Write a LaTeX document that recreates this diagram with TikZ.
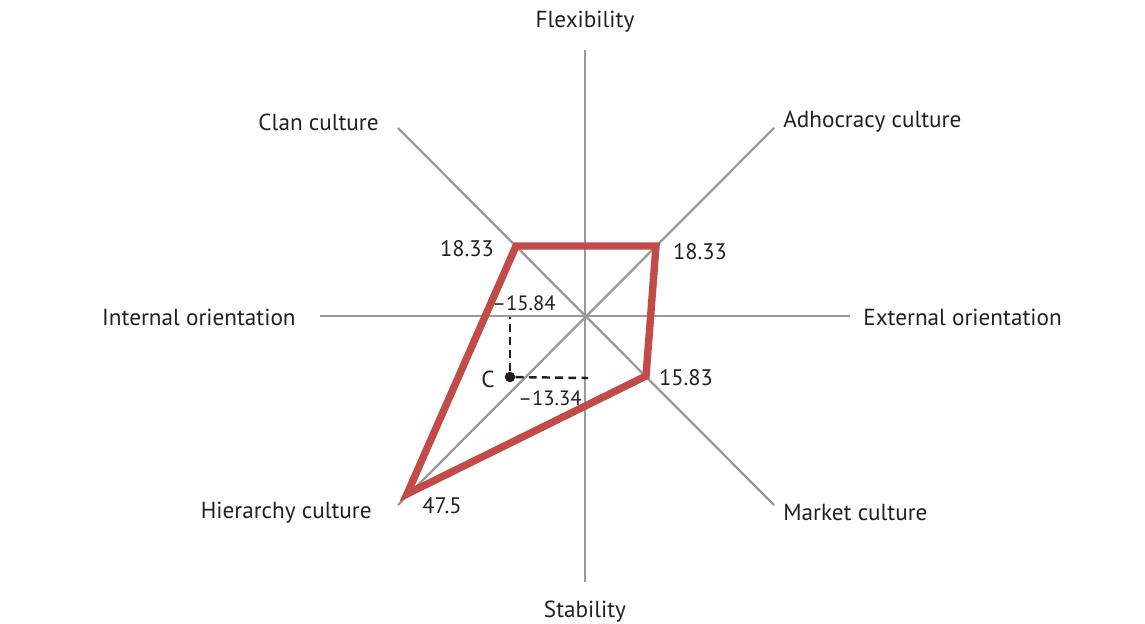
\documentclass[tikz,border=0pt]{standalone}
\usepackage{fontspec}
\setmainfont{PT Sans}
\definecolor{cultred}{RGB}{192,75,72}
\definecolor{axisgray}{RGB}{153,153,153}
\definecolor{txt}{RGB}{35,31,32}

\begin{document}
\begin{tikzpicture}[x=0.02cm,y=-0.02cm,
  axis/.style = {draw=axisgray,line width=1.3pt},
  profile/.style = {draw=cultred,line width=4.2pt,line join=miter},
  guide/.style = {draw=txt,line width=1.4pt,dash pattern=on 4.5pt off 3pt},
  lbl/.style = {text=txt,font=\fontsize{13.2}{15}\selectfont,inner sep=0pt},
  val/.style = {text=txt,font=\fontsize{12.8}{15}\selectfont,inner sep=0pt},
  small/.style = {text=txt,font=\fontsize{11.8}{14}\selectfont,inner sep=0pt}]

\useasboundingbox (0,0) rectangle (1145,623);

% axes
\coordinate (o) at (585,316);
\coordinate (n) at (585,50);
\coordinate (s) at (585,582);
\coordinate (w) at (320,316);
\coordinate (e) at (850,316);
\coordinate (nw) at (398,128);
\coordinate (ne) at (774,128);
\coordinate (sw) at (398,505);
\coordinate (se) at (774,505);

\path[axis] (n) -- (s);
\path[axis] (w) -- (e);
\path[axis] (nw) -- (se);
\path[axis] (ne) -- (sw);

% labels
\node[lbl] (flex) at (585,22) {Flexibility};
\node[lbl] (stab) at (585,612) {Stability};
\node[lbl,anchor=east] (clan) at (379,122) {Clan culture};
\node[lbl,anchor=west] (adho) at (783,122) {Adhocracy culture};
\node[lbl,anchor=east] (intern) at (296,317) {Internal orientation};
\node[lbl,anchor=west] (extern) at (863,317) {External orientation};
\node[lbl,anchor=east] (hier) at (372,513) {Hierarchy culture};
\node[lbl,anchor=west] (mark) at (783,513) {Market culture};

% profile
\coordinate (pc) at (516,246);
\coordinate (pa) at (656,246);
\coordinate (pm) at (646,376);
\coordinate (ph) at (407,494);
\path[profile] (pc) -- (pa) -- (pm) -- (ph) -- cycle;

\node[val] (vc) at (467,249) {18.33};
\node[val] (va) at (700,252) {18.33};
\node[val] (vm) at (686,378) {15.83};
\node[val] (vh) at (442,506) {47.5};

% centre of gravity
\coordinate (cy) at (510,317);
\coordinate (cx) at (588,378);
\node[circle,fill=txt,inner sep=0pt,minimum size=6pt] (c) at (510,377) {};
\path[guide] (c) -- (cy);
\path[guide] (c) -- (cx);
\node[lbl] (clab) at (488,379) {C};
\node[small] (ly) at (524,303) {–15.84};
\node[small] (lx) at (550,398) {–13.34};

\end{tikzpicture}
\end{document}
